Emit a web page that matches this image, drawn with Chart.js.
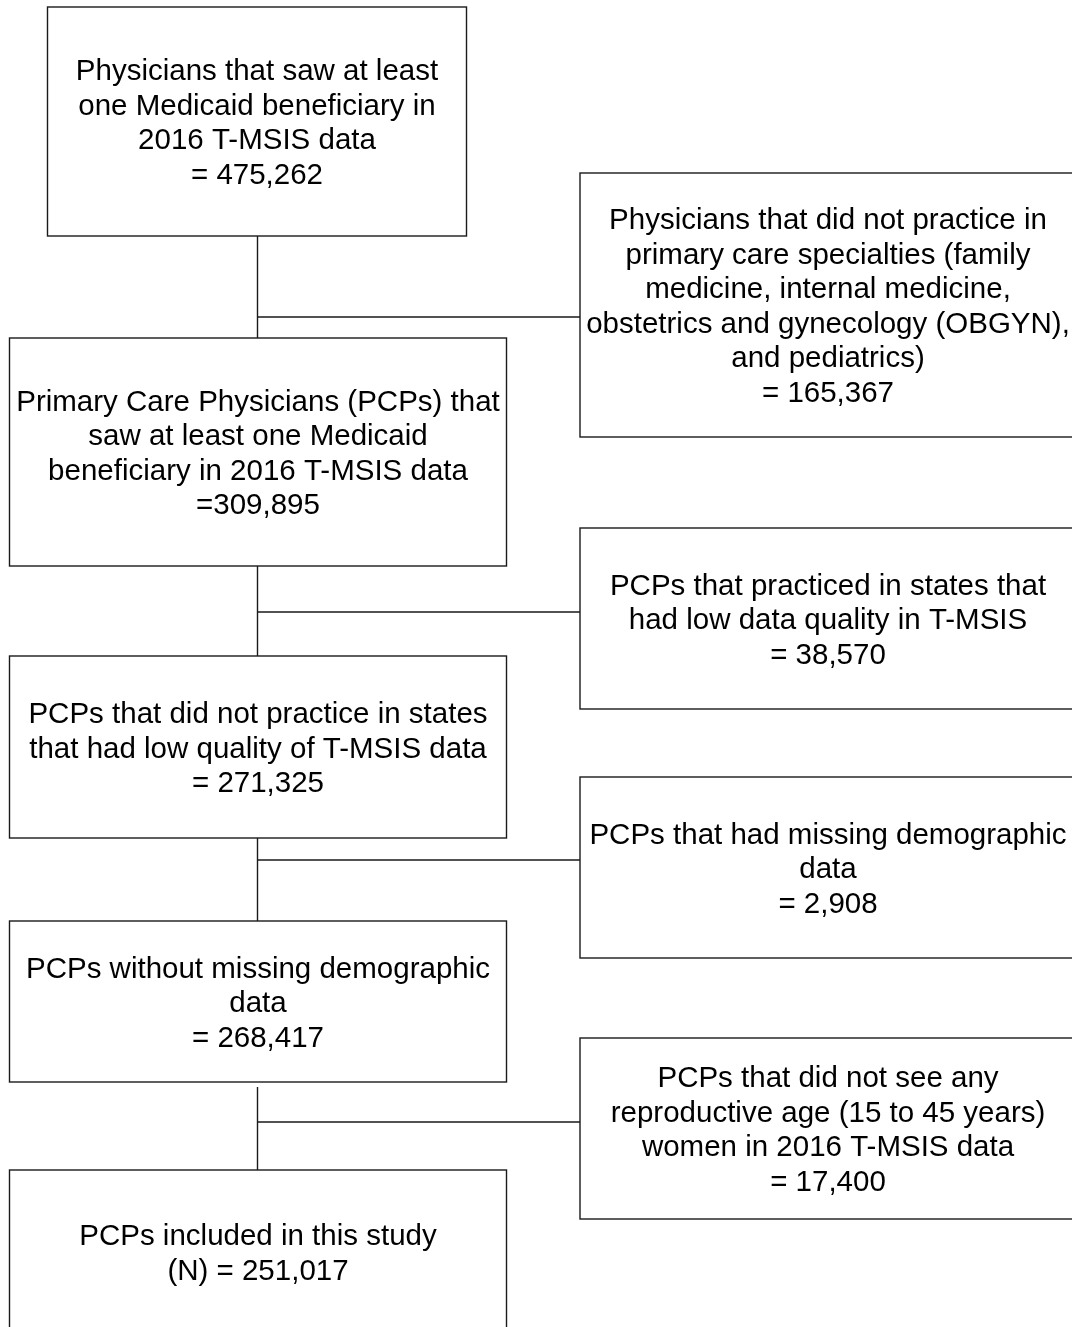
<!DOCTYPE html>
<html>
<head>
<meta charset="utf-8">
<script src="https://cdn.jsdelivr.net/npm/chart.js@4.4.1/dist/chart.umd.min.js"></script>
<style>
  html, body { margin: 0; padding: 0; background: #ffffff; }
  #wrap { width: 1072px; height: 1327px; }
</style>
</head>
<body>
<div id="wrap"><canvas id="c" width="1072" height="1327"></canvas></div>
<script>
// ---- Data (text and counts) ----
const mainStepLines = [
  ["Physicians that saw at least", "one Medicaid beneficiary in", "2016 T-MSIS data"],
  ["Primary Care Physicians (PCPs) that", "saw at least one Medicaid", "beneficiary in 2016 T-MSIS data"],
  ["PCPs that did not practice in states", "that had low quality of T-MSIS data"],
  ["PCPs without missing demographic", "data"],
  ["PCPs included in this study"]
];
const mainCounts = [475262, 309895, 271325, 268417, 251017];
const mainCountPrefix = ["= ", "=", "= ", "= ", "(N) = "];

const exclusionLines = [
  ["Physicians that did not practice in", "primary care specialties (family", "medicine, internal medicine,", "obstetrics and gynecology (OBGYN),", "and pediatrics)"],
  ["PCPs that practiced in states that", "had low data quality in T-MSIS"],
  ["PCPs that had missing demographic", "data"],
  ["PCPs that did not see any", "reproductive age (15 to 45 years)", "women in 2016 T-MSIS data"]
];
const exclusionCounts = [165367, 38570, 2908, 17400];
const exclusionCountPrefix = ["= ", "= ", "= ", "= "];

// ---- Layout (positions in diagram units, mapped through chart scales) ----
const layout = {
  mainBoxes: [
    [47.5, 7, 466.5, 236],
    [9.5, 338, 506.5, 566],
    [9.5, 656, 506.5, 838],
    [9.5, 921, 506.5, 1082],
    [9.5, 1170, 506.5, 1334]
  ],
  exclBoxes: [
    [580, 173, 1076, 437],
    [580, 528, 1076, 709],
    [580, 777, 1076, 958],
    [580, 1038, 1076, 1219]
  ],
  spineX: 257.5,
  branchY: [317, 612, 860, 1122],
  spineSegments: [[236, 338], [566, 656], [838, 921], [1087, 1170]],
  lineHeight: 34.5,
  capHeight: 21,
  font: '29.5px "Liberation Sans", Arial, sans-serif'
};

function fmt(n) { return n.toLocaleString('en-US'); }

const flowPlugin = {
  id: 'flow',
  afterDraw(chart) {
    const ctx = chart.ctx;
    const xs = chart.scales.x, ys = chart.scales.y;
    const px = v => xs.getPixelForValue(v);
    const py = v => ys.getPixelForValue(v);
    ctx.save();
    ctx.strokeStyle = '#1a1a1a';
    ctx.lineWidth = 1.4;

    function rect(b) {
      const x0 = px(b[0]), y0 = py(b[1]), x1 = px(b[2]), y1 = py(b[3]);
      ctx.strokeRect(x0, y0, x1 - x0, y1 - y0);
    }
    function textBlock(b, lines) {
      const cx = (px(b[0]) + px(b[2])) / 2;
      const top = py(b[1]), bot = py(b[3]);
      const cy = (top + bot) / 2;
      const lh = layout.lineHeight;
      const capH = layout.capHeight;
      const blockH = capH + (lines.length - 1) * lh;
      const base = cy - blockH / 2 + capH;
      ctx.font = layout.font;
      ctx.fillStyle = '#000000';
      ctx.textAlign = 'center';
      ctx.textBaseline = 'alphabetic';
      lines.forEach((t, i) => ctx.fillText(t, cx, base + i * lh));
    }

    // connectors
    ctx.beginPath();
    layout.spineSegments.forEach(s => {
      ctx.moveTo(px(layout.spineX), py(s[0]));
      ctx.lineTo(px(layout.spineX), py(s[1]));
    });
    layout.branchY.forEach(y => {
      ctx.moveTo(px(layout.spineX), py(y));
      ctx.lineTo(px(580), py(y));
    });
    ctx.stroke();

    layout.mainBoxes.forEach((b, i) => {
      rect(b);
      const lines = mainStepLines[i].concat([mainCountPrefix[i] + fmt(mainCounts[i])]);
      textBlock(b, lines);
    });
    layout.exclBoxes.forEach((b, i) => {
      rect(b);
      const lines = exclusionLines[i].concat([exclusionCountPrefix[i] + fmt(exclusionCounts[i])]);
      textBlock(b, lines);
    });
    ctx.restore();
  }
};

new Chart(document.getElementById('c'), {
  type: 'scatter',
  data: { datasets: [{ data: [], pointRadius: 0 }] },
  options: {
    responsive: false,
    animation: false,
    layout: { padding: 0 },
    plugins: { legend: { display: false }, tooltip: { enabled: false } },
    scales: {
      x: { type: 'linear', min: 0, max: 1072, display: false },
      y: { type: 'linear', min: 0, max: 1327, reverse: true, display: false }
    }
  },
  plugins: [flowPlugin]
});
</script>
</body>
</html>
